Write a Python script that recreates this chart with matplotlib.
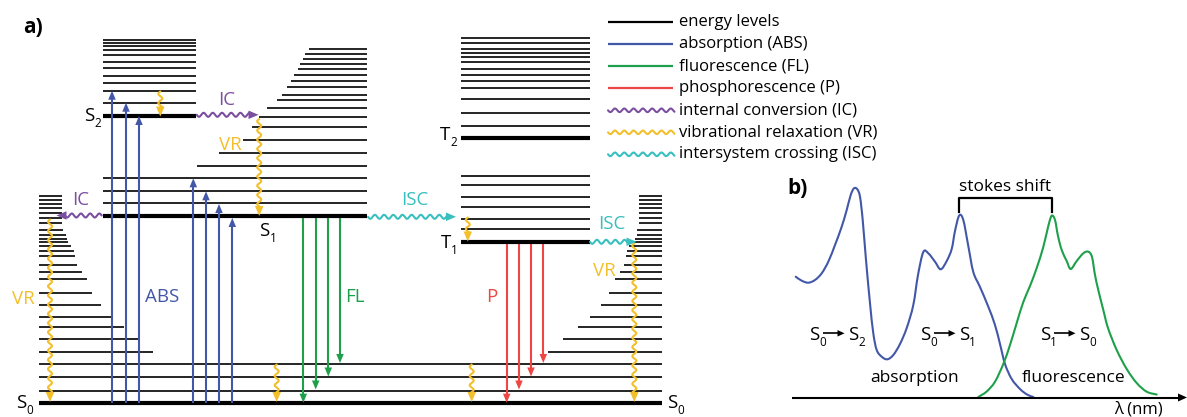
import numpy as np
import matplotlib
matplotlib.use("Agg")
import matplotlib.pyplot as plt
from matplotlib.patches import Polygon, PathPatch
from matplotlib.path import Path

plt.rcParams['font.family'] = ['Open Sans', 'DejaVu Sans']

# ---------------- colours ----------------
C_ABS = '#4357a8'
C_FL = '#1ea04b'
C_P = '#ee4545'
C_IC = '#7b4fa0'
C_VR = '#f3bf2b'
C_ISC = '#38bfbf'

# ---------------- panel a: energy levels (y positions, px) ----------------
S0_Y = 403
s0_levels = [196, 200, 204, 208, 212.5, 218, 223, 230, 235, 238.5, 242, 246, 251, 256,
             264.5, 272, 279, 292.5, 305, 317, 327, 338.5, 351.5, 364, 377, 390.5]
s0_left_end = [62, 62, 62, 62, 62, 62, 62, 63, 66, 67, 68, 71, 74, 75,
               77, 82, 87, 92, 101, 111, 124, 138, 153, 662, 662, 662]
s0_right_start = [639, 639, 639, 639, 639, 639, 639, 637, 637, 635, 634, 629, 627, 626,
                  624, 620, 615, 609, 601, 590, 578, 563, 548, 39, 39, 39]
S0_X = (39, 662)

S1_Y = 216
s1_levels = [49, 54, 59, 64, 69, 75, 81, 87, 95, 100, 108, 117, 127, 140, 153, 166, 178, 190.5, 203]
s1_start = [309, 305, 303, 300, 298, 294, 291, 287, 282, 277, 267, 259, 252, 243, 219, 197, 103, 103, 103]
S1_X = (103, 367)

S2_Y = 116
s2_levels = [40, 42.7, 46, 50, 55, 61.7, 68.3, 76, 83.3, 90.7, 102.7]
S2_X = (103, 196)

T2_Y = 138.3
t2_levels = [37.7, 43.3, 49, 53.3, 57.3, 62.3, 69, 75.3, 80.7, 88.3, 99, 112.7, 125.7]
T1_Y = 242.3
t1_levels = [176, 184.7, 196.7, 207.3, 218.7, 229.2]
T_X = (460.5, 589.5)

# ---------------- transitions ----------------
abs_x = [112, 126, 139, 193.3, 206, 219, 232.3]
abs_tip = [90.7, 102.7, 116, 178.3, 191.3, 204, 218]
fl_x = [303.3, 315.7, 328.3, 340]
fl_tip = [402.7, 389.5, 376.5, 363]
p_x = [506.7, 519, 531, 543.3]
p_tip = [402.7, 389.5, 376.5, 363]

# wavy transitions: (x0, y0, x1, y1, kind)
wavy_list = [
    (196.7, 114.8, 258.5, 114.8, 'IC'),
    (101.7, 215.5, 56.5, 215.5, 'IC'),
    (259.2, 119, 259.2, 216, 'VR'),
    (160.3, 91.5, 160.3, 116.5, 'VR'),
    (50, 219.5, 50, 402, 'VR'),
    (276.7, 364.5, 276.7, 402, 'VR'),
    (368, 216.8, 456, 216.8, 'ISC'),
    (467.8, 217.5, 467.8, 241.5, 'VR'),
    (590, 241.8, 636.5, 241.8, 'ISC'),
    (634.3, 243.5, 634.3, 402, 'VR'),
    (471.7, 364.5, 471.7, 402, 'VR'),
]

# ---------------- legend ----------------
legend_labels = ['energy levels', 'absorption (ABS)', 'fluorescence (FL)', 'phosphorescence (P)',
                 'internal conversion (IC)', 'vibrational relaxation (VR)', 'intersystem crossing (ISC)']
legend_kinds = ['E', 'ABS', 'FL', 'P', 'IC', 'VR', 'ISC']
legend_y = [21.7, 44, 66, 88, 110.3, 132.3, 154.3]

# ---------------- panel b: spectra ----------------
abs_wl = [795.7, 801.7, 808.3, 815, 821.7, 828.3, 835, 841.7, 846.7, 850.7, 854, 857.3, 860,
          862.7, 866, 870, 873.3, 876.7, 881.7, 887.3, 893.3, 900, 906.7, 913.3,
          918, 923.3, 928.3, 935, 940.7, 946.7, 951.7, 955, 959.2, 963.3, 968.3, 973.3, 980,
          988.3, 995, 1000, 1005, 1011.7, 1020, 1027, 1033.3]
abs_int = [276.7, 280.7, 282.7, 280, 273.3, 261.7, 245, 226.7, 210, 195, 188.3, 189.3, 196.7,
           220, 260, 303.3, 333.3, 350, 356.7, 359.3, 355, 344, 328, 305,
           275, 252, 253.3, 261.7, 269.3, 261, 249, 231, 215.5, 220, 246, 272, 287,
           306.7, 325, 344, 364, 379, 389, 394.5, 397]
fl_wl = [978.3, 986.7, 995, 1003.3, 1010, 1016.7, 1023.3, 1030, 1036.7, 1043.3, 1048.3, 1051.7,
         1055, 1058, 1061.7, 1066.7, 1070.7, 1076.7, 1083.3, 1088.3, 1092, 1095, 1098.3, 1103.3,
         1108, 1116.7, 1126.7, 1136.7, 1146.7, 1156.7]
fl_int = [397, 391.5, 381.7, 364, 345, 323, 302, 286, 268, 247, 226, 215.7,
          220, 236, 250, 261, 269, 261, 253.3, 251.7, 257, 275, 290, 310,
          328, 350, 369, 383, 391.7, 394.5]

# ---------------- figure ----------------
fig = plt.figure(figsize=(11.87, 4.17), dpi=100)
ax = fig.add_axes([0, 0, 1, 1])
ax.set_xlim(0, 1187)
ax.set_ylim(417, 0)
ax.axis('off')

THIN = 1.2
THICK = 3.0


def hline(y, x0, x1, lw=THIN, color='black'):
    ax.plot([x0, x1], [y, y], color=color, lw=lw, solid_capstyle='butt')


def head(tip, u, color, hl, hw):
    tip = np.asarray(tip, float)
    n = np.array([-u[1], u[0]])
    base = tip - u * hl
    ax.add_patch(Polygon([tip, base + n * hw / 2, base - n * hw / 2], closed=True,
                         facecolor=color, edgecolor='none', zorder=4))


def straight(x0, y0, x1, y1, color, lw=1.5, hl=9, hw=7.5):
    p0 = np.array([x0, y0], float)
    p1 = np.array([x1, y1], float)
    d = p1 - p0
    u = d / np.hypot(*d)
    e = p1 - u * (hl - 1)
    ax.plot([p0[0], e[0]], [p0[1], e[1]], color=color, lw=lw, solid_capstyle='butt', zorder=3)
    head(p1, u, color, hl, hw)


def wavy(x0, y0, x1, y1, color, amp=2.0, period=9.2, lw=1.5, hl=10, hw=8.5):
    p0 = np.array([x0, y0], float)
    p1 = np.array([x1, y1], float)
    d = p1 - p0
    L = np.hypot(*d)
    u = d / L
    n = np.array([-u[1], u[0]])
    s = np.linspace(0, L - hl + 1.5, 400)
    w = amp * np.sin(2 * np.pi * s / period)
    pts = p0[:, None] + u[:, None] * s + n[:, None] * w
    ax.plot(pts[0], pts[1], color=color, lw=lw, solid_capstyle='round', zorder=3)
    if hl > 0:
        head(p1, u, color, hl, hw)


def smooth_curve(xs, ys, color, lw=1.5):
    """Draw a smooth Bezier path passing through the read points."""
    P = np.column_stack([xs, ys]).astype(float)
    verts = [P[0]]
    codes = [Path.MOVETO]
    for i in range(len(P) - 1):
        p0 = P[i - 1] if i > 0 else P[i]
        p1, p2 = P[i], P[i + 1]
        p3 = P[i + 2] if i + 2 < len(P) else P[i + 1]
        verts += [p1 + (p2 - p0) / 6, p2 - (p3 - p1) / 6, p2]
        codes += [Path.CURVE4] * 3
    ax.add_patch(PathPatch(Path(verts, codes), facecolor='none', edgecolor=color,
                           lw=lw, capstyle='round', joinstyle='round'))


kind_color = {'ABS': C_ABS, 'FL': C_FL, 'P': C_P, 'IC': C_IC, 'VR': C_VR, 'ISC': C_ISC, 'E': 'black'}

# S0 manifold
hline(S0_Y, *S0_X, lw=THICK)
for y, le, rs in zip(s0_levels, s0_left_end, s0_right_start):
    if le >= S0_X[1]:
        hline(y, *S0_X)
    else:
        hline(y, S0_X[0], le)
        hline(y, rs, S0_X[1])

# S1 manifold
hline(S1_Y, *S1_X, lw=THICK)
for y, xs in zip(s1_levels, s1_start):
    hline(y, xs, S1_X[1])

# S2 manifold
hline(S2_Y, *S2_X, lw=THICK)
for y in s2_levels:
    hline(y, *S2_X)

# triplets
hline(T2_Y, *T_X, lw=THICK)
hline(T1_Y, *T_X, lw=THICK)
for y in t2_levels + t1_levels:
    hline(y, *T_X)

# radiative transitions
for x, t in zip(abs_x, abs_tip):
    straight(x, S0_Y, x, t, C_ABS)
for x, t in zip(fl_x, fl_tip):
    straight(x, S1_Y + 1.5, x, t, C_FL)
for x, t in zip(p_x, p_tip):
    straight(x, T1_Y + 1.5, x, t, C_P)

# non-radiative transitions
for x0, y0, x1, y1, k in wavy_list:
    wavy(x0, y0, x1, y1, kind_color[k])

# labels panel a
FS = 13.5
ax.text(23, 27, 'a)', fontsize=15, fontweight='bold', va='center', ha='left')


def state(x, y, main, sub, ha='left'):
    ax.text(x, y, main, fontsize=FS, va='baseline', ha='left')
    ax.text(x + 10, y + 6, sub, fontsize=8.5, va='baseline', ha='left')


state(16, 408, 'S', '0')
state(84, 120.5, 'S', '2')
state(259.5, 235.5, 'S', '1')
state(440, 140.5, 'T', '2')
state(441, 247.5, 'T', '1')
state(667, 408, 'S', '0')

ax.text(227, 99.5, 'IC', color=C_IC, fontsize=FS, ha='center', va='center')
ax.text(81, 200, 'IC', color=C_IC, fontsize=FS, ha='center', va='center')
ax.text(230, 145, 'VR', color=C_VR, fontsize=FS, ha='center', va='center')
ax.text(23, 298.5, 'VR', color=C_VR, fontsize=FS, ha='center', va='center')
ax.text(604, 271.5, 'VR', color=C_VR, fontsize=FS, ha='center', va='center')
ax.text(162, 297, 'ABS', color=C_ABS, fontsize=FS, ha='center', va='center')
ax.text(355, 297, 'FL', color=C_FL, fontsize=FS, ha='center', va='center')
ax.text(492, 297, 'P', color=C_P, fontsize=FS, ha='center', va='center')
ax.text(414.5, 200, 'ISC', color=C_ISC, fontsize=FS, ha='center', va='center')
ax.text(612, 224, 'ISC', color=C_ISC, fontsize=FS, ha='center', va='center')

# legend
for lab, k, y in zip(legend_labels, legend_kinds, legend_y):
    c = kind_color[k]
    if k in ('IC', 'VR', 'ISC'):
        wavy(608, y, 673, y, c, amp=1.8, period=9.3, hl=0)
    else:
        hline(y, 608, 673, lw=1.6, color=c)
    ax.text(679, y, lab, fontsize=12, va='center', ha='left')

# ---------------- panel b ----------------
ax.text(787, 188, 'b)', fontsize=15, fontweight='bold', va='center', ha='left')
straight(792, 397.5, 1187, 397.5, 'black', lw=1.5, hl=9, hw=8)
ax.text(1138, 409, 'λ (nm)', fontsize=12, ha='center', va='center')
smooth_curve(abs_wl, abs_int, C_ABS)
smooth_curve(fl_wl, fl_int, C_FL)

# stokes shift bracket
bx0, bx1 = abs_wl[int(np.argmin(abs_int[20:])) + 20], fl_wl[int(np.argmin(fl_int))]
ax.plot([bx0, bx0, bx1, bx1], [211.5, 198.3, 198.3, 211.5], color='black', lw=1.6)
ax.text((bx0 + bx1) / 2, 187, 'stokes shift', fontsize=12.5, ha='center', va='center')

ax.text(915, 378, 'absorption', fontsize=12.5, ha='center', va='center')
ax.text(1074, 378, 'fluorescence', fontsize=12.5, ha='center', va='center')


def transition(x, a, b):
    state(x, 340, 'S', a)
    straight(x + 13.5, 333.3, x + 35.5, 333.3, 'black', lw=1.2, hl=7, hw=6.5)
    state(x + 39, 340, 'S', b)


transition(809, '0', '2')
transition(920, '0', '1')
transition(1040, '1', '0')

fig.savefig('out.png', dpi=100)
